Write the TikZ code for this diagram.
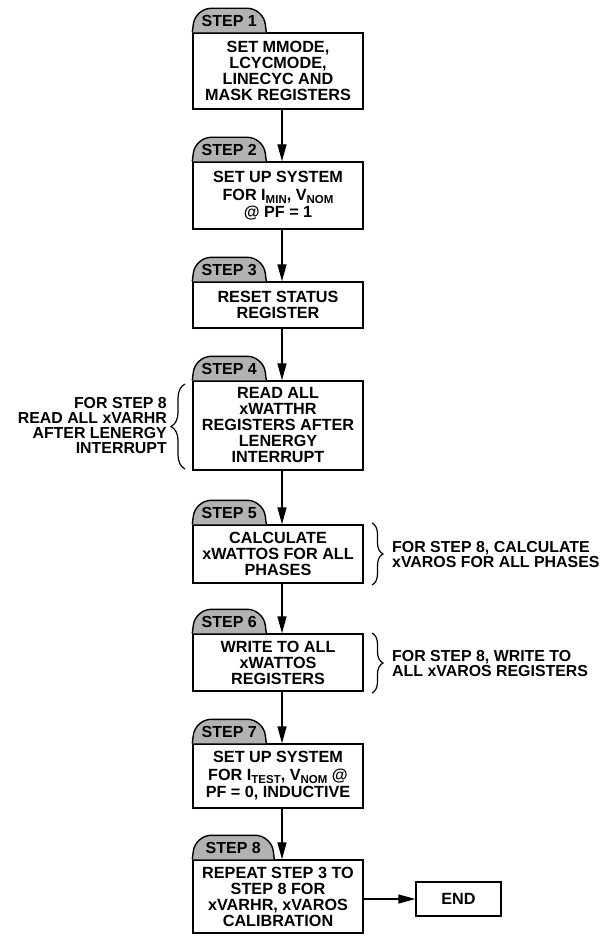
\documentclass[tikz,border=0pt]{standalone}
\usepackage{fontspec}
\setmainfont{Liberation Sans}
\usetikzlibrary{arrows.meta,calc,decorations.pathreplacing}
\newcommand{\lowsub}[1]{\raisebox{-3pt}{\fontsize{11.5pt}{12pt}\selectfont #1}}
\begin{document}
\begin{tikzpicture}[x=1pt,y=-1pt,
  box/.style={draw=black, line width=1.4pt, fill=white, minimum width=170pt, inner sep=0pt,
    align=center, font=\fontsize{16.2pt}{16pt}\selectfont\bfseries},
  tabshape/.style={draw=black, line width=1.4pt, fill=black!30, rounded corners=16pt},
  steplbl/.style={inner sep=0pt, font=\fontsize{16pt}{16pt}\selectfont\bfseries},
  note/.style={inner sep=0pt, font=\fontsize{15.9pt}{15pt}\selectfont\bfseries},
  arr/.style={line width=1.4pt, -{Triangle[length=17pt,width=9pt]}},
  bracestyle/.style={line width=1.2pt, decorate, decoration={brace, amplitude=#1, aspect=0.5}},
  bracestyle/.default=11pt
]
\useasboundingbox (0,0) rectangle (602,936);
\coordinate (ax) at (282,0);

% boxes
\node[box, minimum height=76pt] (b1) at (278,71) {SET MMODE,\\LCYCMODE,\\LINECYC AND\\MASK REGISTERS};
\node[box, minimum height=67pt] (b2) at (278,195.5) {SET UP SYSTEM\\[2pt]FOR I\lowsub{MIN}, V\lowsub{NOM}\\[1pt]@ PF = 1};
\node[box, minimum height=46pt] (b3) at (278,305) {RESET STATUS\\REGISTER};
\node[box, minimum height=89pt] (b4) at (278,425.5) {READ ALL\\xWATTHR\\REGISTERS AFTER\\LENERGY\\INTERRUPT};
\node[box, minimum height=58pt] (b5) at (278,554) {CALCULATE\\xWATTOS FOR ALL\\PHASES};
\node[box, minimum height=57pt] (b6) at (278,662.5) {WRITE TO ALL\\xWATTOS\\REGISTERS};
\node[box, minimum height=64pt] (b7) at (278,776) {SET UP SYSTEM\\[2pt]FOR I\lowsub{TEST}, V\lowsub{NOM} @\\[1pt]PF = 0, INDUCTIVE};
\node[box, minimum height=73pt] (b8) at (278,896.5) {REPEAT STEP 3 TO\\STEP 8 FOR\\xVARHR, xVAROS\\CALIBRATION};
\node[box, minimum width=85pt, minimum height=34pt] (endn) at (458.5,899) {END};

% tabs
\foreach \i/\w in {1/74,2/74,3/74,4/74,5/74,6/74,7/74,8/82}{
  \draw[tabshape] (b\i.north west) -- ++(3,-24) -- ++(\w-6,0) -- ++(3,24);
  \node[steplbl] (s\i) at ($(b\i.north west)+(\w/2,-11.5)$) {STEP \i};
}

% arrows
\foreach \i/\j in {1/2,2/3,3/4,4/5,5/6,6/7,7/8}{
  \draw[arr] (b\i.south -| ax) -- (b\j.north -| ax);
}
\draw[arr] (b8.east |- endn.west) -- (endn.west);

% side notes
\draw[bracestyle=14pt] (185,469) -- (185,384);
\node[note, anchor=east, align=right] (n4) at (167,426) {FOR STEP 8\\READ ALL xVARHR\\AFTER LENERGY\\INTERRUPT};
\draw[bracestyle] (372,523) -- (372,585);
\node[note, anchor=west, align=left] (n5) at (392,555) {FOR STEP 8, CALCULATE\\xVAROS FOR ALL PHASES};
\draw[bracestyle] (372,633) -- (372,693);
\node[note, anchor=west, align=left] (n6) at (392,663.5) {FOR STEP 8, WRITE TO\\ALL xVAROS REGISTERS};
\end{tikzpicture}
\end{document}
